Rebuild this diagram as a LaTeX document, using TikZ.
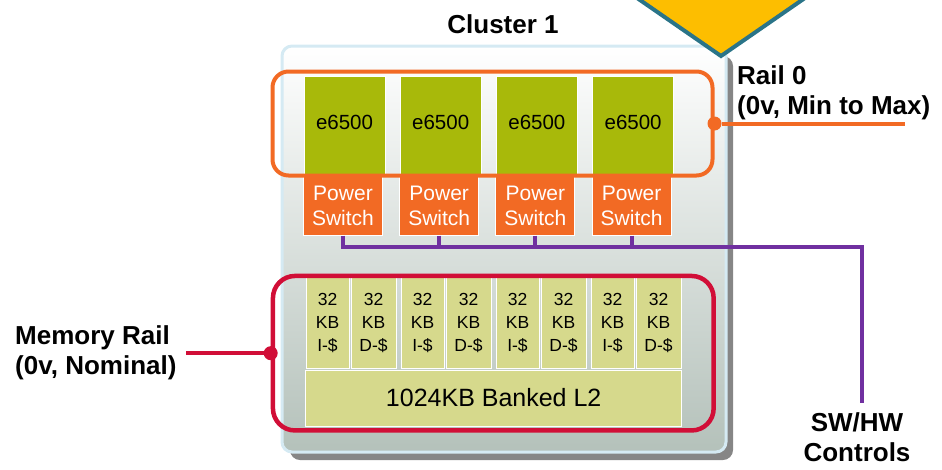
\documentclass[tikz,border=0pt]{standalone}
\usepackage{fontspec}
\setmainfont{Liberation Sans}
\usetikzlibrary{shapes,arrows,calc,fit}

\definecolor{railorange}{RGB}{242,106,36}
\definecolor{coregreen}{RGB}{168,185,10}
\definecolor{cachetan}{RGB}{214,217,140}
\definecolor{memred}{RGB}{209,14,55}
\definecolor{ctrlpurple}{RGB}{112,48,160}
\definecolor{panelblue}{RGB}{213,234,243}
\definecolor{panelgray}{RGB}{180,193,186}
\definecolor{panelmid}{RGB}{230,234,231}
\definecolor{capgold}{RGB}{253,190,0}
\definecolor{capteal}{RGB}{42,116,136}

\begin{document}
\begin{tikzpicture}[x=1pt, y=-1pt,
	core/.style={fill=coregreen, draw=white, line width=1pt, minimum width=81pt, minimum height=100pt, inner sep=0pt, font=\fontsize{20.5}{24}\selectfont},
	pswitch/.style={fill=railorange, draw=white, line width=1pt, minimum width=79pt, minimum height=59pt, inner sep=0pt, text=white, align=center, font=\fontsize{21}{25}\selectfont},
	l1/.style={fill=cachetan, draw=white, line width=1pt, minimum height=91pt, inner sep=0pt, align=center, font=\fontsize{17.5}{23}\selectfont},
	l2/.style={fill=cachetan, draw=white, line width=1pt, minimum width=376pt, minimum height=56pt, inner sep=0pt, font=\fontsize{25}{28}\selectfont},
	rail/.style={draw=railorange, line width=4pt, rounded corners=16pt, inner sep=0pt},
	memrail/.style={draw=memred, line width=4.5pt, rounded corners=22pt, inner sep=0pt},
	tap/.style={circle, inner sep=0pt, minimum size=14pt},
	ctrl/.style={draw=ctrlpurple, line width=4pt},
	lbl/.style={font=\fontsize{26}{30}\selectfont\bfseries, inner sep=0pt, align=left}
	]
	\useasboundingbox (0,0) rectangle (942,469);

	\fill[gray!95, rounded corners=10pt] (290,56) rectangle (733,460);
	\draw[panelblue, line width=3pt, rounded corners=10pt, top color=white, middle color=panelmid, bottom color=panelgray] (282,46) rectangle (726,452);
	\filldraw[fill=capgold, draw=capteal, line width=4pt, line join=miter] (611,-20) -- (721,56) -- (831,-20) -- cycle;

	\node[lbl, anchor=base] (cluster) at (503,33) {Cluster 1};

	\newcounter{i}
	\setcounter{i}{0}
	\foreach \x in
	{344.5, 440.7, 536.9, 633.1}
	{
		\node[core] (core-\arabic{i}) at (\x, 126) {\raisebox{7pt}{e6500}};
		\node[pswitch] (psw-\arabic{i}) at (\x-1.5, 205.5) {Power\\Switch};
		\stepcounter{i}
	}
	\setcounter{i}{0}
	\foreach \x in
	{327.5, 422.5, 517.5, 612.5}
	{
		\node[l1, minimum width=43pt] (icache-\arabic{i}) at (\x, 322.5) {32\\KB\\I-\$};
		\node[l1, minimum width=45pt] (dcache-\arabic{i}) at (\x+46, 322.5) {32\\KB\\D-\$};
		\stepcounter{i}
	}
	\node[l2] (l2) at (493.7,398) {1024KB Banked L2};

	\node[rail, minimum width=440pt, minimum height=104pt] (rail0) at (492.5,123.5) {};
	\node[tap, fill=railorange] (rail0-tap) at (rail0.east) {};
	\coordinate (rail0-end) at (905,123.5);
	\draw[railorange, line width=4pt] (rail0-tap) -- (rail0-end);
	\node[lbl, anchor=north west] (rail0-lbl) at (737,65) {Rail 0\\(0v, Min to Max)};

	\node[memrail, minimum width=440.7pt, minimum height=154.5pt] (memrail) at (493.3,353.2) {};
	\node[tap, fill=memred] (memrail-tap) at (memrail.west) {};
	\coordinate (memrail-end) at (186,353.2);
	\draw[memred, line width=4pt] (memrail-tap) -- (memrail-end);
	\node[lbl, anchor=north west] (memrail-lbl) at (15,325) {Memory Rail\\(0v, Nominal)};

	\coordinate (bus-end) at (862,247);
	\coordinate (ctrl-end) at (862,403);
	\foreach \n in {1,...,3}
		\draw[ctrl] (psw-\n.south) -- (psw-\n.south |- bus-end);
	\draw[ctrl] (psw-0.south) |- (bus-end) -- (ctrl-end);
	\node[lbl, align=center, anchor=north] (ctrl-lbl) at (857,412) {SW/HW\\Controls};
\end{tikzpicture}
\end{document}
